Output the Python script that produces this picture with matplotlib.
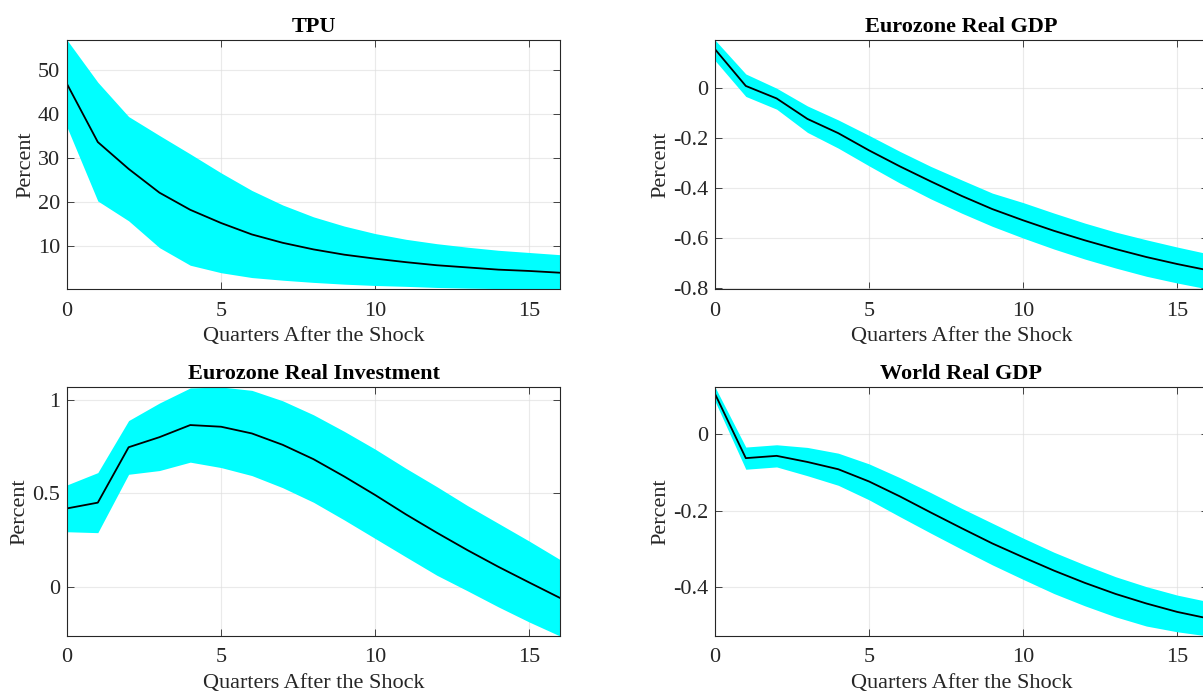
import numpy as np
import matplotlib
matplotlib.use("Agg")
import matplotlib.pyplot as plt

# ── Data ───────────────────────────────────────────────────────────────
quarters = np.arange(17)

tpu_mid = [46.8, 33.6, 27.5, 22.1, 18.2, 15.2, 12.6, 10.7, 9.2, 8.0, 7.1, 6.3, 5.6, 5.1, 4.6, 4.3, 3.9]
tpu_hi = [56.8, 47.2, 39.4, 35.1, 30.9, 26.6, 22.6, 19.3, 16.6, 14.5, 12.8, 11.5, 10.5, 9.7, 9.0, 8.5, 8.0]
tpu_lo = [37.0, 20.2, 15.7, 9.6, 5.6, 3.9, 2.8, 2.2, 1.7, 1.3, 1.0, 0.8, 0.55, 0.4, 0.3, 0.25, 0.2]

ezgdp_mid = [0.156, 0.009, -0.041, -0.123, -0.180, -0.249, -0.313, -0.373, -0.431, -0.484, -0.529, -0.571, -0.609, -0.644, -0.676, -0.704, -0.729]
ezgdp_hi = [0.193, 0.057, 0.000, -0.071, -0.127, -0.189, -0.253, -0.313, -0.367, -0.420, -0.458, -0.500, -0.540, -0.576, -0.607, -0.636, -0.663]
ezgdp_lo = [0.111, -0.033, -0.084, -0.177, -0.240, -0.311, -0.380, -0.443, -0.500, -0.553, -0.600, -0.644, -0.684, -0.720, -0.753, -0.780, -0.804]

inv_mid = [0.419, 0.450, 0.747, 0.801, 0.866, 0.857, 0.821, 0.760, 0.683, 0.590, 0.491, 0.387, 0.289, 0.195, 0.106, 0.022, -0.061]
inv_hi = [0.545, 0.611, 0.890, 0.984, 1.065, 1.070, 1.052, 0.996, 0.921, 0.832, 0.737, 0.634, 0.536, 0.434, 0.339, 0.244, 0.145]
inv_lo = [0.294, 0.289, 0.602, 0.622, 0.667, 0.638, 0.595, 0.530, 0.452, 0.357, 0.258, 0.159, 0.061, -0.023, -0.109, -0.190, -0.265]

wgdp_mid = [0.105, -0.063, -0.057, -0.073, -0.092, -0.124, -0.163, -0.205, -0.246, -0.286, -0.322, -0.357, -0.389, -0.418, -0.443, -0.465, -0.482]
wgdp_hi = [0.123, -0.034, -0.028, -0.035, -0.050, -0.078, -0.114, -0.153, -0.194, -0.233, -0.272, -0.309, -0.342, -0.373, -0.399, -0.421, -0.438]
wgdp_lo = [0.086, -0.092, -0.086, -0.109, -0.134, -0.172, -0.216, -0.259, -0.301, -0.342, -0.380, -0.417, -0.449, -0.478, -0.502, -0.517, -0.528]

titles = ["TPU", "Eurozone Real GDP", "Eurozone Real Investment", "World Real GDP"]
yticks = [[10, 20, 30, 40, 50], [0, -0.2, -0.4, -0.6, -0.8], [0, 0.5, 1], [0, -0.2, -0.4]]
ytick_labels = [["10", "20", "30", "40", "50"], ["0", "-0.2", "-0.4", "-0.6", "-0.8"],
                ["0", "0.5", "1"], ["0", "-0.2", "-0.4"]]
xticks = [0, 5, 10, 15]

panels = [
    (tpu_mid, tpu_lo, tpu_hi),
    (ezgdp_mid, ezgdp_lo, ezgdp_hi),
    (inv_mid, inv_lo, inv_hi),
    (wgdp_mid, wgdp_lo, wgdp_hi),
]

# ── Figure ─────────────────────────────────────────────────────────────
plt.rcParams["font.family"] = ["Liberation Serif", "DejaVu Serif"]
W, H = 1203, 693
fig = plt.figure(figsize=(W / 100, H / 100), dpi=100)

# axes boxes in pixels: left, top, right, bottom (right column runs off the edge)
boxes = [(67, 40, 560, 289), (715, 40, 1208, 289),
         (67, 387, 560, 636), (715, 387, 1208, 636)]

tick_col = "#262626"
for i, (mid, lo, hi) in enumerate(panels):
    l, t, r, b = boxes[i]
    ax = fig.add_axes([l / W, 1 - b / H, (r - l) / W, (b - t) / H])
    ax.fill_between(quarters, lo, hi, color=(0, 1, 1), linewidth=0, zorder=2)
    ax.plot(quarters, mid, color="black", linewidth=1.3, zorder=3)
    ax.set_xlim(0, 16)
    ax.set_ylim(min(lo), max(hi))
    ax.set_xticks(xticks)
    ax.set_xticklabels([str(v) for v in xticks])
    ax.set_yticks(yticks[i])
    ax.set_yticklabels(ytick_labels[i])
    ax.grid(True, color="#dddddd", linewidth=0.8, zorder=0)
    for gl in ax.get_xgridlines() + ax.get_ygridlines():
        gl.set_zorder(2.5)
        gl.set_alpha(0.6)
    ax.tick_params(direction="in", length=5, width=0.6, top=True, right=True,
                   colors=tick_col, labelsize=16)
    ax.tick_params(axis="x", pad=9)
    ax.tick_params(axis="y", pad=5)
    for s in ax.spines.values():
        s.set_color(tick_col)
        s.set_linewidth(0.8)
        s.set_zorder(4)
    ax.set_title(titles[i], fontsize=16, fontweight="bold", pad=6)
    ax.set_xlabel("Quarters After the Shock", fontsize=16, color=tick_col, labelpad=4.5)
    ax.set_ylabel("Percent", fontsize=16, color=tick_col, labelpad=1.8)

fig.savefig("out.png", dpi=100)
